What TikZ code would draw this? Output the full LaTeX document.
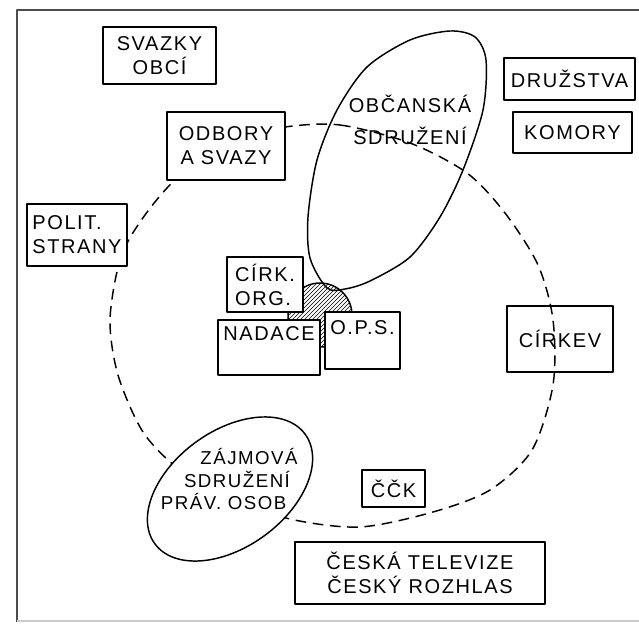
\documentclass[tikz,border=0pt]{standalone}
\usepackage{fontspec}
\setmainfont{Liberation Sans}[LetterSpace=8]
\usetikzlibrary{patterns}
\newcommand\handfont{\fontsize{15}{18}\selectfont}
\tikzset{
  box/.style={draw,line width=1.2pt,fill=white,inner sep=4pt,font=\handfont},
  hand/.style={inner sep=1pt,font=\handfont},
  ring/.style={line width=1.1pt,dash pattern=on 8pt off 5pt},
  blob/.style={line width=1.1pt}
}

\begin{document}
\begin{tikzpicture}[x=0.75pt,y=-0.75pt,line join=round]
      \useasboundingbox (0,0) rectangle (639,624);
      \draw[line width=1.5pt,black!70] (17,622) -- (17,10) -- (639,10);
      \draw[line width=1pt,black!20] (17,621) -- (639,621);
      \draw[ring] plot[smooth cycle] coordinates {(285,127) (340,125) (410,143) (467,173) (505,213) (538,265) (553,320) (553,385) (532,450) (490,490) (433,512) (360,527) (290,519) (230,497) (180,470) (143,432) (118,375) (110,320) (120,260) (140,222) (175,180) (230,140)};
      \draw[blob] plot[smooth cycle] coordinates {(327,288) (310,258) (308,217) (317,160) (337,110) (367,67) (410,40) (450,31) (475,37) (486,60) (483,110) (463,170) (440,217) (410,257) (370,281) (345,289)};
      \draw[blob,pattern=north east lines] (320,315) circle (32);
      \draw[blob,fill=white,rotate around={36:(230,489)}] (230,489) ellipse (93 and 58);
      \node[box,minimum width=85pt,minimum height=43pt,align=center] (svazky) at (159.5,55.5) {SVAZKY\\OBCÍ};
      \node[box,minimum width=88.5pt,minimum height=51pt,align=center] (odbory) at (226,146) {ODBORY\\A SVAZY};
      \node[box,minimum width=73.5pt,minimum height=46.5pt,align=left] (polit) at (77,235) {POLIT.\\STRANY};
      \node[box,minimum width=98pt,minimum height=31.5pt] (druzstva) at (569.5,79) {DRUŽSTVA};
      \node[box,minimum width=89pt,minimum height=31pt] (komory) at (572.5,132.5) {KOMORY};
      \node[box,minimum width=57pt,minimum height=41pt,align=left] (cirkorg) at (265,284.5) {CÍRK.\\ORG.};
      \node[box,minimum width=69pt,text height=11pt,text depth=22pt] (nadace) at (269,347.5) {NADACE};
      \node[box,minimum width=55pt,text height=13pt,text depth=22pt] (ops) at (362.5,340.5) {O.P.S.};
      \node[box,fill=none,minimum width=79.5pt,minimum height=49.5pt] (cirkev) at (560,339) {CÍRKEV};
      \node[box,minimum width=47pt,minimum height=28pt] (cck) at (393.5,488.5) {ČČK};
      \node[box,minimum width=187.5pt,minimum height=46.5pt,align=center] (ceska) at (420,573) {ČESKÁ TELEVIZE\\ČESKÝ ROZHLAS};
      \node[hand,align=center] (obcanska) at (410,120) {OBČANSKÁ\\[6pt]SDRUŽENÍ};
      \node[hand,align=center,font=\fontsize{14}{17}\selectfont] (zajmova) at (237,479) {\hspace*{18pt}ZÁJMOVÁ\\SDRUŽENÍ\\PRÁV. OSOB\hspace*{20pt}};
\end{tikzpicture}
\end{document}
